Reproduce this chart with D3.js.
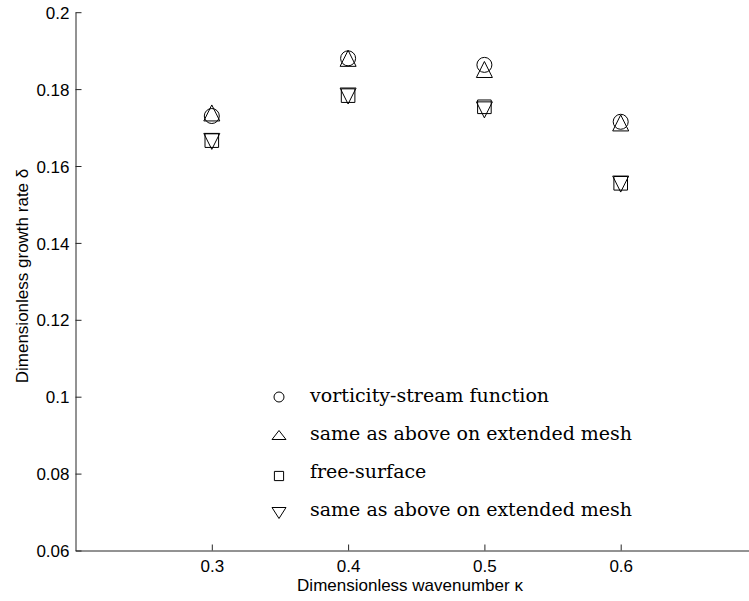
<!DOCTYPE html>
<html>
<head>
<meta charset="utf-8">
<script src="https://cdn.jsdelivr.net/npm/d3@7"></script>
<style>
  body { margin: 0; background: #fff; }
  svg { display: block; }
</style>
</head>
<body>
<svg id="chart" width="749" height="601"></svg>
<script>
// wavenumbers on the x axis
var kappa = [0.3, 0.4, 0.5, 0.6];

// growth rate per method
var vorticity = [0.1730, 0.1880, 0.1863, 0.1715];
var vorticityExt = [0.1738, 0.1880, 0.1851, 0.1712];
var freeSurface = [0.1666, 0.1783, 0.1754, 0.1555];
var freeSurfaceExt = [0.1664, 0.1782, 0.1746, 0.1553];

var xTicks = [0.3, 0.4, 0.5, 0.6];
var yTicks = [0.06, 0.08, 0.1, 0.12, 0.14, 0.16, 0.18, 0.2];

var legendLabels = [
    'vorticity-stream function',
    'same as above on extended mesh',
    'free-surface',
    'same as above on extended mesh'
];

var series = [
    {values: vorticity, marker: 'circle'},
    {values: vorticityExt, marker: 'up'},
    {values: freeSurface, marker: 'square'},
    {values: freeSurfaceExt, marker: 'down'}
];

// marker shapes, s = half size
function markerPath(type, s){
    if(type == 'circle'){
        return 'M' + s + ',0A' + s + ',' + s + ' 0 1,1 ' + (-s) + ',0A' + s + ',' + s + ' 0 1,1 ' + s + ',0Z';
    } else if(type == 'up'){
        return 'M0,' + (-s) + 'L' + s + ',' + s + 'L' + (-s) + ',' + s + 'Z';
    } else if(type == 'down'){
        return 'M0,' + s + 'L' + s + ',' + (-s) + 'L' + (-s) + ',' + (-s) + 'Z';
    }
    return 'M' + (-s) + ',' + (-s) + 'H' + s + 'V' + s + 'H' + (-s) + 'Z';
}

var markerSize = {circle: 7.5, up: 8, down: 8, square: 6.8};

var svg = d3.select('#chart');

// plot area edges (note: "top" is reserved on window)
var plotLeft = 75.5, plotBottom = 550.5, plotTop = 12.2;

var x = d3.scaleLinear().domain([0.2, 0.7]).range([plotLeft, plotLeft + 5 * 136.3]);
var y = d3.scaleLinear().domain([0.06, 0.2]).range([plotBottom, plotTop]);

var axisColor = '#262626';
var tickFont = '"Liberation Sans", Arial, sans-serif';

// x axis, ticks pointing inward
var xAxis = svg.append('g')
    .attr('transform', 'translate(0,' + plotBottom + ')')
    .call(d3.axisBottom(x).tickValues(xTicks).tickSizeInner(-6).tickSizeOuter(0).tickPadding(14)
        .tickFormat(d3.format('.1f')));

// y axis
var yAxis = svg.append('g')
    .attr('transform', 'translate(' + plotLeft + ',0)')
    .call(d3.axisLeft(y).tickValues(yTicks).tickSizeInner(-6).tickSizeOuter(0).tickPadding(6)
        .tickFormat(function(d){ return d3.format('.2~f')(d); }));

[xAxis, yAxis].forEach(function(g){
    g.select('.domain').attr('stroke', axisColor).attr('stroke-width', 1);
    g.selectAll('.tick line').attr('stroke', axisColor).attr('stroke-width', 1);
    g.selectAll('.tick text')
        .attr('fill', '#000')
        .style('font-family', tickFont)
        .style('font-size', '17px');
});
xAxis.selectAll('.tick text').attr('dy', null).attr('y', 21);
yAxis.selectAll('.tick text').attr('dy', '0.36em');

// axis labels
svg.append('text')
    .attr('x', 410)
    .attr('y', 591)
    .attr('text-anchor', 'middle')
    .style('font-family', tickFont)
    .style('font-size', '17px')
    .text('Dimensionless wavenumber κ');

svg.append('text')
    .attr('transform', 'translate(28,276) rotate(-90)')
    .attr('text-anchor', 'middle')
    .style('font-family', tickFont)
    .style('font-size', '17px')
    .text('Dimensionless growth rate δ');

// data markers
series.forEach(function(s){
    svg.append('g').selectAll('path')
        .data(s.values)
        .enter().append('path')
            .attr('transform', function(d, i){ return 'translate(' + x(kappa[i]) + ',' + y(d) + ')'; })
            .attr('d', markerPath(s.marker, markerSize[s.marker]))
            .attr('fill', 'none')
            .attr('stroke', '#000')
            .attr('stroke-width', 1);
});

// legend (drawn like the latex symbols)
var legendSize = {circle: [5, 5], up: [7, 4.5], square: [4.6, 4.6], down: [7, 5.5]};
var legendY = d3.scalePoint().domain(d3.range(legendLabels.length)).range([396, 510]);

var legend = svg.append('g');
legendLabels.forEach(function(label, i){
    var m = series[i].marker;
    var sz = legendSize[m];
    legend.append('path')
        .attr('transform', 'translate(279,' + (legendY(i) + (m == 'square' ? 4 : (m == 'down' ? 3 : 1))) + ') scale(' + (sz[0] / sz[1]) + ',1)')
        .attr('d', markerPath(m, sz[1]))
        .attr('fill', 'none')
        .attr('stroke', '#000')
        .attr('stroke-width', 1)
        .attr('vector-effect', 'non-scaling-stroke');
    legend.append('text')
        .attr('x', 310)
        .attr('y', legendY(i) + 6)
        .style('font-family', '"DejaVu Serif", serif')
        .style('font-size', '19px')
        .attr('fill', '#000')
        .text(label);
});
</script>
</body>
</html>
